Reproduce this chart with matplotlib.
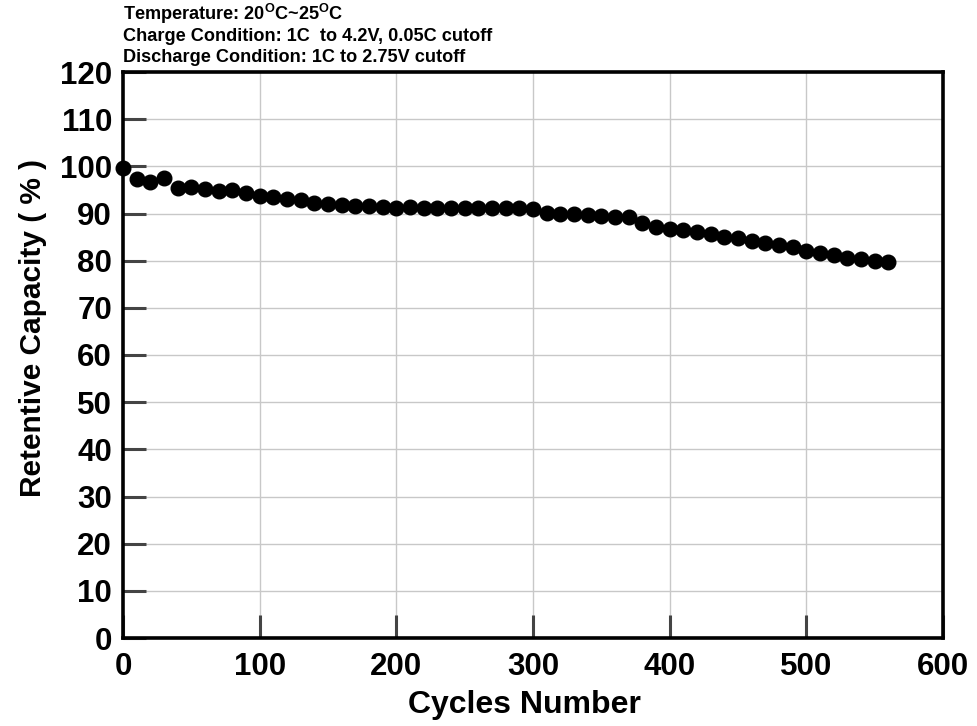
import matplotlib
matplotlib.use("Agg")
import matplotlib.pyplot as plt

plt.rcParams['font.family'] = ['Liberation Sans', 'DejaVu Sans']
plt.rcParams['font.weight'] = 'bold'
plt.rcParams['mathtext.default'] = 'regular'

# cycle test data
cycles = list(range(0, 570, 10))
capacity = [
    99.6, 97.3, 96.6, 97.6, 95.4, 95.6, 95.2, 94.7, 94.9, 94.4,
    93.8, 93.5, 93.1, 92.8, 92.3, 92.0, 91.8, 91.6, 91.5, 91.4,
    91.2, 91.3, 91.2, 91.2, 91.2, 91.2, 91.2, 91.2, 91.2, 91.2,
    91.0, 90.1, 89.8, 89.8, 89.6, 89.4, 89.3, 89.2, 87.9, 87.2,
    86.8, 86.6, 86.1, 85.6, 85.0, 84.8, 84.2, 83.8, 83.4, 82.8,
    82.1, 81.6, 81.1, 80.6, 80.3, 80.0, 79.7,
]

x_ticks = [0, 100, 200, 300, 400, 500, 600]
y_ticks = list(range(0, 130, 10))

header_lines = [
    r"Temperature: 20$^{O}$C~25$^{O}$C",
    "Charge Condition: 1C  to 4.2V, 0.05C cutoff",
    "Discharge Condition: 1C to 2.75V cutoff",
]

fig = plt.figure(figsize=(9.78, 7.26), dpi=100)
ax = fig.add_axes([123 / 978, 1 - 638 / 726, 820 / 978, 566 / 726])

# grid lines (light gray), drawn under the data
for xv in x_ticks[1:-1]:
    ax.axvline(xv, color='#c8c8c8', lw=1, zorder=0)
for yv in y_ticks[1:-1]:
    ax.axhline(yv, color='#c8c8c8', lw=1, zorder=0)

ax.plot(cycles, capacity, 'o', color='black', markersize=10.5, zorder=3,
        clip_on=False)

ax.set_xlim(0, 600)
ax.set_ylim(0, 120)
ax.set_xticks(x_ticks)
ax.set_yticks(y_ticks)
ax.tick_params(axis='both', direction='in', length=16.5, width=2.2,
               color='#444444', labelsize=22.5, pad=8)
ax.tick_params(axis='x', pad=10)

for sp in ax.spines.values():
    sp.set_linewidth(2.6)
    sp.set_color('black')

fig.text(33 / 978, 1 - 328 / 726, "Retentive Capacity ( % )", rotation=90,
         ha='center', va='center', fontsize=21.5, fontweight='bold')
fig.text(524 / 978, 1 - 713 / 726, "Cycles Number", ha='center',
         va='baseline', fontsize=23, fontweight='bold')

for i, line in enumerate(header_lines):
    fig.text(123 / 978, 1 - (19.5 + 21.5 * i) / 726, line, ha='left',
             va='baseline', fontsize=13.1, fontweight='bold')

fig.savefig("out.png", dpi=100)
